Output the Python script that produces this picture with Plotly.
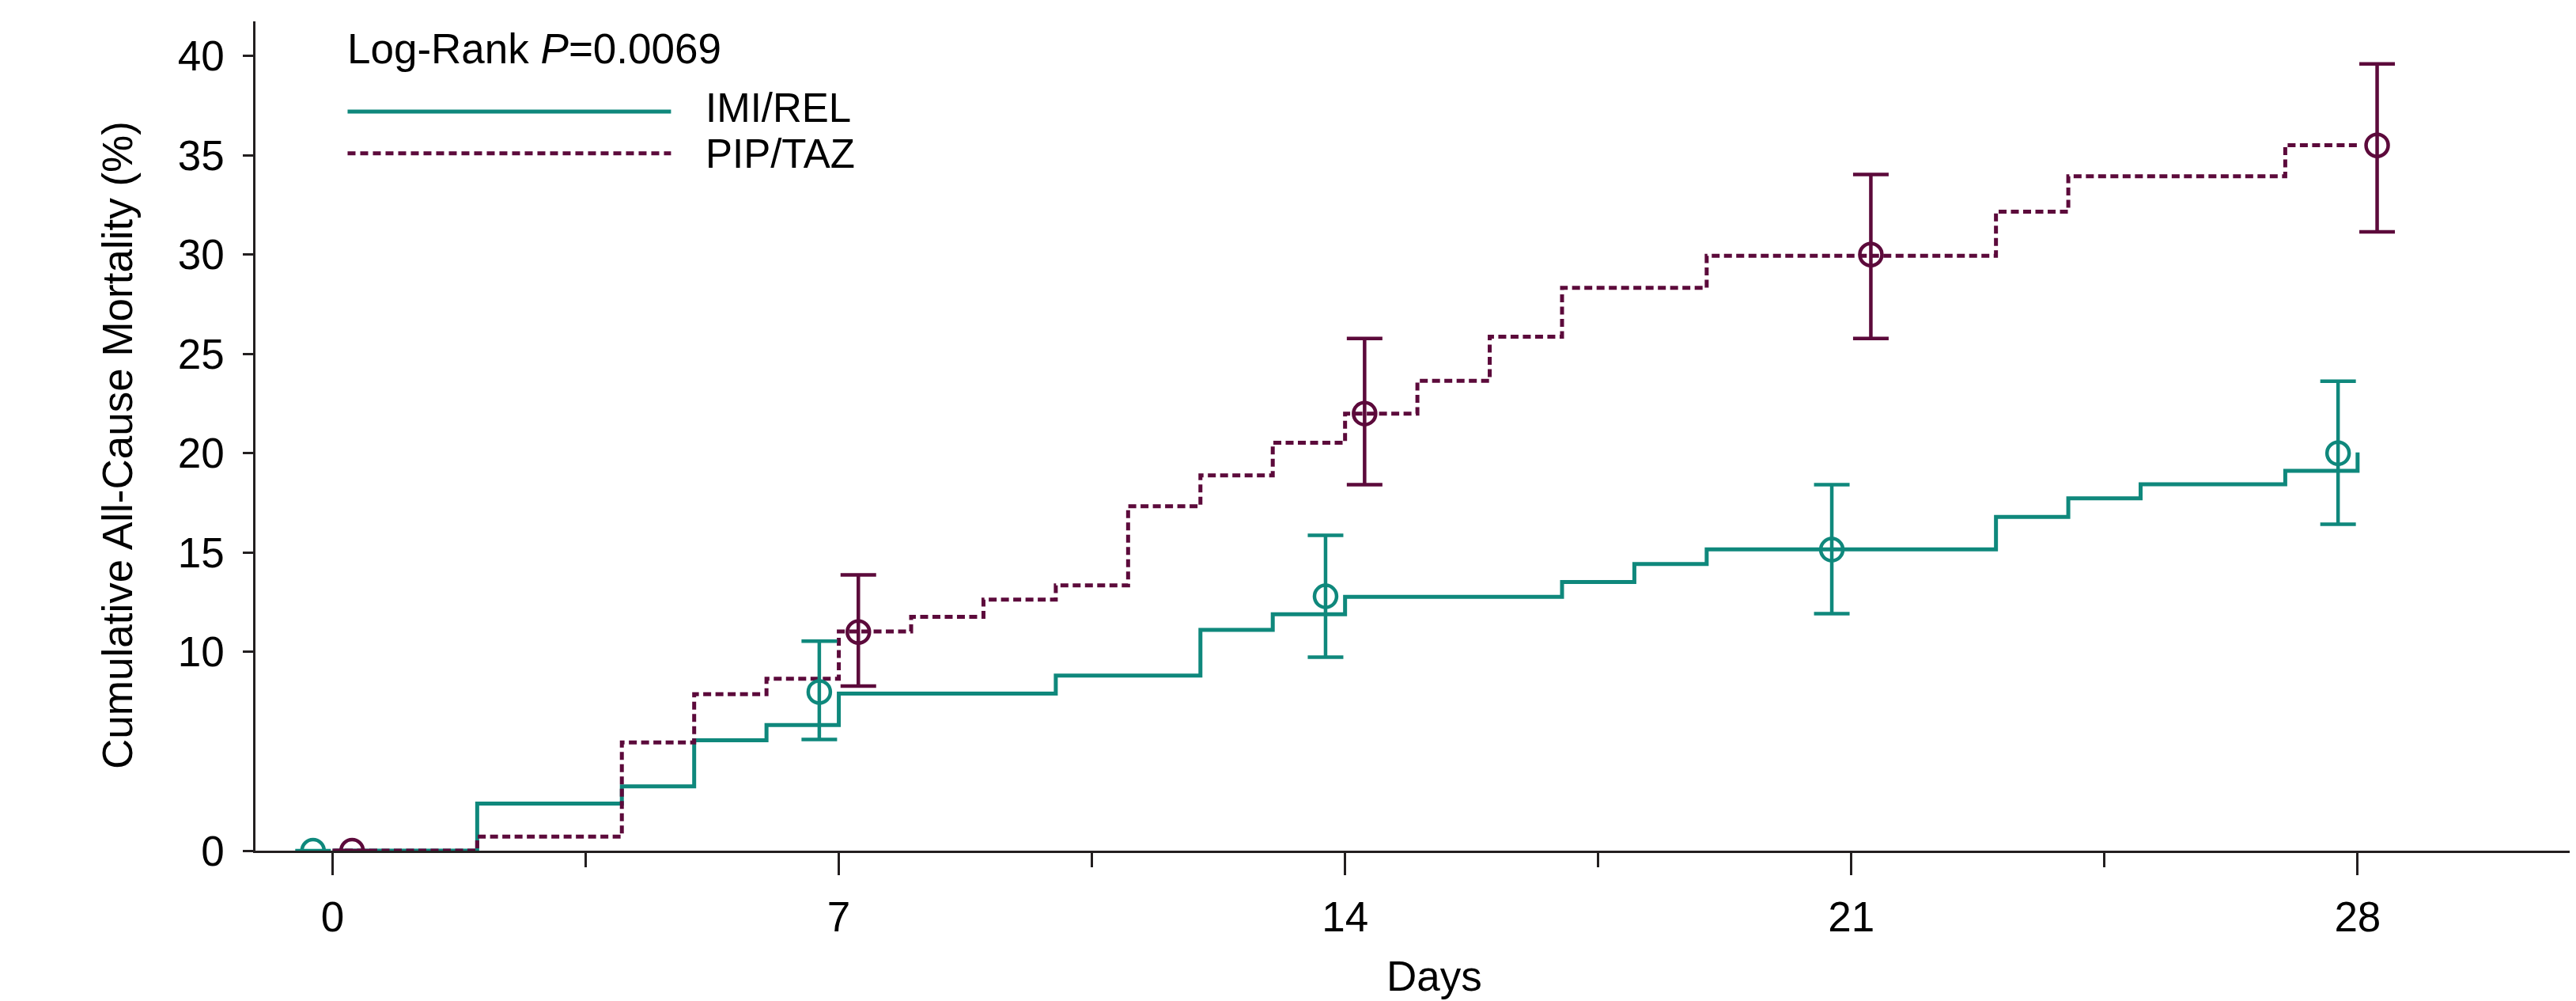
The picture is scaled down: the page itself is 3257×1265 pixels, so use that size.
import plotly.graph_objects as go

# ---------------- data ----------------
imi_days = [0, 2, 4, 5, 6, 7, 10, 12, 13, 14, 17, 18, 19, 23, 24, 25, 27, 28]
imi_vals = [0, 2.37, 3.24, 5.56, 6.32, 7.91, 8.81, 11.11, 11.9, 12.77, 13.52,
            14.43, 15.16, 16.8, 17.73, 18.44, 19.12, 20.04]

pip_days = [0, 2, 4, 5, 6, 7, 8, 9, 10, 11, 12, 13, 14, 15, 16, 17, 19, 23, 24, 27, 28]
pip_vals = [0, 0.71, 5.45, 7.88, 8.65, 11.03, 11.77, 12.64, 13.35, 17.34, 18.89,
            20.53, 22.0, 23.65, 25.87, 28.33, 29.94, 32.16, 33.94, 35.51, 35.51]

mark_days = [0, 7, 14, 21, 28]
imi_est = [0, 7.99, 12.8, 15.15, 20.0]
imi_hi = [0, 10.54, 15.87, 18.42, 23.63]
imi_lo = [0, 5.60, 9.74, 11.93, 16.43]
pip_est = [0, 11.0, 22.0, 30.0, 35.5]
pip_hi = [0, 13.88, 25.78, 34.03, 39.6]
pip_lo = [0, 8.28, 18.42, 25.78, 31.15]

x_ticks = [0, 7, 14, 21, 28]
x_minor = [3.5, 10.5, 17.5, 24.5]
y_ticks = [0, 10, 15, 20, 25, 30, 35, 40]

series_names = ["IMI/REL", "PIP/TAZ"]
p_text = "Log-Rank <i>P</i>=0.0069"

# ---------------- style ----------------
TEAL = "#0f887c"
PURP = "#5c0a3b"
AXC = "#231f20"
FONT = "Liberation Sans, Arial, Helvetica, sans-serif"
FS = 53
LFS = 51
OFF = 8                      # page body margin
W, H = 3257 - OFF, 1265 - OFF
ML = 322.5 - OFF
MT = 26.6 - OFF
MB = H - (1074.6 - OFF)
MR = 0
DODGE = 0.27

X0, X1 = -1.066, 31.02
Y0, Y1 = 0, 41.74


def px_x(X):
    """screen pixel -> paper fraction"""
    return (X - OFF - ML) / (W - ML - MR)


def px_y(Y):
    return 1 - (Y - OFF - MT) / (H - MT - MB)


fig = go.Figure()

fig.add_trace(go.Scatter(x=imi_days, y=imi_vals, mode="lines", line_shape="hv",
                         line=dict(color=TEAL, width=5), name=series_names[0],
                         showlegend=False))
fig.add_trace(go.Scatter(x=pip_days, y=pip_vals, mode="lines", line_shape="hv",
                         line=dict(color=PURP, width=5, dash="10px,5.5px"),
                         name=series_names[1], showlegend=False))

for est, hi, lo, col, off, nm in [(imi_est, imi_hi, imi_lo, TEAL, -DODGE, series_names[0]),
                                  (pip_est, pip_hi, pip_lo, PURP, DODGE, series_names[1])]:
    fig.add_trace(go.Scatter(
        x=[d + off for d in mark_days], y=est, mode="markers", name=nm, showlegend=False,
        marker=dict(symbol="circle-open", size=28, color=col, line=dict(width=4.5, color=col)),
        error_y=dict(type="data", symmetric=False,
                     array=[h - e for h, e in zip(hi, est)],
                     arrayminus=[e - l for e, l in zip(est, lo)],
                     color=col, thickness=4.5, width=22.5)))

# custom legend
fig.add_shape(type="line", xref="paper", yref="paper", x0=px_x(439), x1=px_x(848),
              y0=px_y(140.7), y1=px_y(140.7), line=dict(color=TEAL, width=5))
fig.add_shape(type="line", xref="paper", yref="paper", x0=px_x(439), x1=px_x(848),
              y0=px_y(193.3), y1=px_y(193.3), line=dict(color=PURP, width=5, dash="10px,6px"))

ann_font = dict(family=FONT, size=FS, color="#000000")
leg_font = dict(family=FONT, size=LFS, color="#000000")
fig.add_annotation(text=p_text, xref="paper", yref="paper", x=px_x(437), y=px_y(61),
                   xanchor="left", yanchor="middle", showarrow=False, font=ann_font)
fig.add_annotation(text=series_names[0], xref="paper", yref="paper", x=px_x(890), y=px_y(136),
                   xanchor="left", yanchor="middle", showarrow=False, font=leg_font)
fig.add_annotation(text=series_names[1], xref="paper", yref="paper", x=px_x(890), y=px_y(194),
                   xanchor="left", yanchor="middle", showarrow=False, font=leg_font)
# axis titles
fig.add_annotation(text="Days", xref="paper", yref="paper", x=px_x(1813), y=px_y(1233),
                   xanchor="center", yanchor="middle", showarrow=False, font=ann_font)
fig.add_annotation(text="Cumulative All-Cause Mortality (%)", xref="paper", yref="paper",
                   x=px_x(148), y=px_y(562), textangle=-90, xanchor="center", yanchor="middle",
                   showarrow=False, font=ann_font)

fig.update_xaxes(range=[X0, X1], tickvals=x_ticks, ticks="outside", ticklen=28, tickwidth=2.5,
                 tickcolor=AXC, showline=True, linecolor=AXC, linewidth=2.5, showgrid=False,
                 zeroline=False, tickfont=dict(family=FONT, size=FS, color="#000000"),
                 ticklabelstandoff=8,
                 minor=dict(tickvals=x_minor, ticks="outside", ticklen=18,
                            tickwidth=2.5, tickcolor=AXC, showgrid=False))
fig.update_yaxes(range=[Y0, Y1], tickvals=y_ticks, ticks="outside", ticklen=13, tickwidth=2.5,
                 tickcolor=AXC, showline=True, linecolor=AXC, linewidth=2.5, showgrid=False,
                 zeroline=False, tickfont=dict(family=FONT, size=FS, color="#000000"),
                 ticklabelstandoff=13)

fig.update_layout(width=W, height=H, margin=dict(l=ML, r=MR, t=MT, b=MB, pad=0),
                  paper_bgcolor="white", plot_bgcolor="white", showlegend=False,
                  font=dict(family=FONT, size=FS, color="#000000"))

fig.write_html("out.html")
